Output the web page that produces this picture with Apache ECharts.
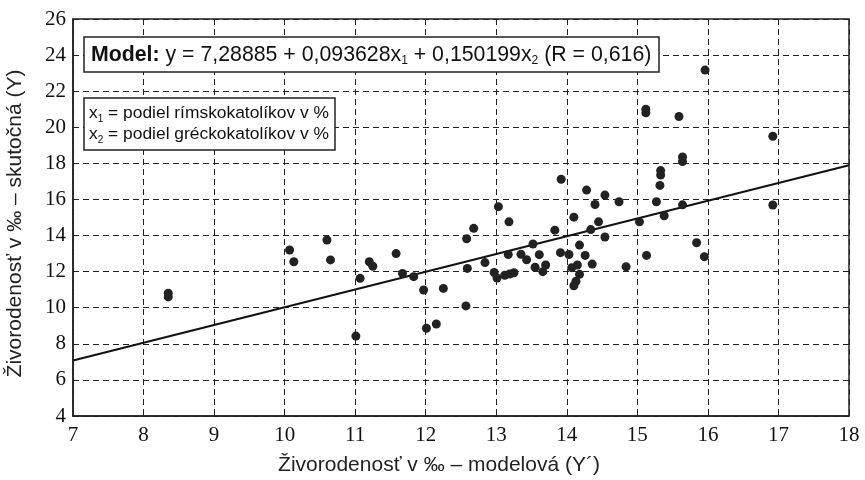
<!DOCTYPE html>
<html>
<head>
<meta charset="utf-8">
<script src="https://cdn.jsdelivr.net/npm/echarts@6/dist/echarts.min.js"></script>
<style>html,body{margin:0;padding:0;background:#fff;}#c{width:865px;height:480px;}</style>
</head>
<body>
<div id="c"></div>
<script>
// Model (Y') values — x axis
var modelY = [8.35,8.35,10.07,10.13,10.6,10.65,11.01,11.07,11.2,11.25,11.58,11.67,11.83,11.97,12.01,12.15,12.25,12.57,12.59,12.58,12.68,12.84,13.03,13.18,12.97,13.01,13.12,13.19,13.25,13.17,13.35,13.43,13.52,13.61,13.55,13.66,13.7,13.83,13.92,13.91,14.03,14.18,14.1,14.28,14.4,14.54,14.74,14.45,14.34,14.54,14.07,14.15,14.26,14.36,14.18,14.13,14.1,14.84,15.13,15.03,15.27,15.38,15.32,15.33,15.33,15.12,15.12,15.59,15.64,15.64,15.64,15.84,15.95,15.96,16.92,16.92];
// Actual (Y) values — y axis
var actualY = [10.8,10.6,13.2,12.55,13.75,12.65,8.43,11.63,12.55,12.3,13.0,11.9,11.72,10.98,8.86,9.1,11.07,10.1,12.18,13.82,14.4,12.5,15.6,14.76,11.95,11.65,11.8,11.87,11.94,12.95,12.96,12.66,13.53,12.94,12.24,12.0,12.37,14.3,17.12,13.05,12.95,13.47,15.02,16.52,15.72,16.24,15.87,14.76,14.33,13.92,12.22,12.37,12.9,12.42,11.85,11.47,11.22,12.27,12.9,14.76,15.87,15.1,16.78,17.35,17.6,20.8,21.0,20.6,18.1,18.35,15.7,13.6,12.83,23.17,19.5,15.69];
// Regression line end points
var lineX = [7, 18];
var lineY = [7.08, 17.9];
var xTicks = {min: 7, max: 18, interval: 1};
var yTicks = {min: 4, max: 26, interval: 2};

var points = modelY.map(function(v, i){ return [v, actualY[i]]; });
var linePts = lineX.map(function(v, i){ return [v, lineY[i]]; });

var chart = echarts.init(document.getElementById('c'), null, {renderer: 'canvas'});
var sans = 'Liberation Sans, Arial, sans-serif';
var serif = 'Liberation Serif, Times New Roman, serif';
chart.setOption({
  backgroundColor: '#fff',
  animation: false,
  title: [
    {
      left: 84, top: 37,
      text: '{b|Model:} y = 7,28885 + 0,093628x{s|1} + 0,150199x{s|2} (R = 0,616)',
      backgroundColor: '#fff', borderColor: '#222', borderWidth: 1.5,
      padding: [6, 8, 5, 7],
      textStyle: {
        fontFamily: sans, fontSize: 21.3, fontWeight: 'normal', color: '#111', lineHeight: 24,
        rich: {
          b: {fontFamily: sans, fontSize: 21.3, fontWeight: 'bold', color: '#111', lineHeight: 24},
          s: {fontFamily: sans, fontSize: 12, color: '#111', verticalAlign: 'bottom', lineHeight: 24, padding: [12, 0, 0, 0]}
        }
      }
    },
    {
      left: 84, top: 98,
      text: 'x{s|1} = podiel rímskokatolíkov v %\nx{s|2} = podiel gréckokatolíkov v %',
      backgroundColor: '#fff', borderColor: '#222', borderWidth: 1.5,
      padding: [5, 6, 5, 5],
      textStyle: {
        fontFamily: sans, fontSize: 17.4, fontWeight: 'normal', color: '#111', lineHeight: 21,
        rich: {
          s: {fontFamily: sans, fontSize: 10, color: '#111', verticalAlign: 'bottom', lineHeight: 21, padding: [9, 0, 0, 0]}
        }
      }
    }
  ],
  grid: {left: 73, right: 16, top: 19, bottom: 64, show: true, borderColor: '#222', borderWidth: 1.5, backgroundColor: 'transparent', containLabel: false, outerBoundsMode: 'none'},
  xAxis: {
    type: 'value', min: xTicks.min, max: xTicks.max, interval: xTicks.interval,
    name: 'Živorodenosť v ‰ – modelová (Y´)', nameLocation: 'middle', nameGap: 39,
    nameTextStyle: {fontFamily: sans, fontSize: 21, color: '#222', padding: [0, 44, 0, 0]},
    axisLine: {show: true, lineStyle: {color: '#222', width: 1.5}},
    axisTick: {show: true, inside: true, length: 4, lineStyle: {color: '#222'}},
    axisLabel: {fontFamily: serif, fontSize: 21, color: '#111', margin: 9},
    splitLine: {show: true, lineStyle: {color: '#222', type: [6, 4], width: 1}}
  },
  yAxis: {
    type: 'value', min: yTicks.min, max: yTicks.max, interval: yTicks.interval,
    name: 'Živorodenosť v ‰ – skutočná (Y)', nameLocation: 'middle', nameGap: 47,
    nameTextStyle: {fontFamily: sans, fontSize: 21, color: '#222', padding: [0, 12, 0, 0]},
    axisLine: {show: true, lineStyle: {color: '#222', width: 1.5}},
    axisTick: {show: false},
    axisLabel: {fontFamily: serif, fontSize: 21, color: '#111', margin: 7},
    splitLine: {show: true, lineStyle: {color: '#222', type: [6, 4], width: 1}}
  },
  series: [
    {
      type: 'scatter', data: points, symbol: 'circle', symbolSize: 9,
      itemStyle: {color: '#222', opacity: 1}, z: 3
    },
    {
      type: 'line', data: linePts, symbol: 'none', silent: true,
      lineStyle: {color: '#111', width: 2}, z: 2
    }
  ]
});
</script>
</body>
</html>
